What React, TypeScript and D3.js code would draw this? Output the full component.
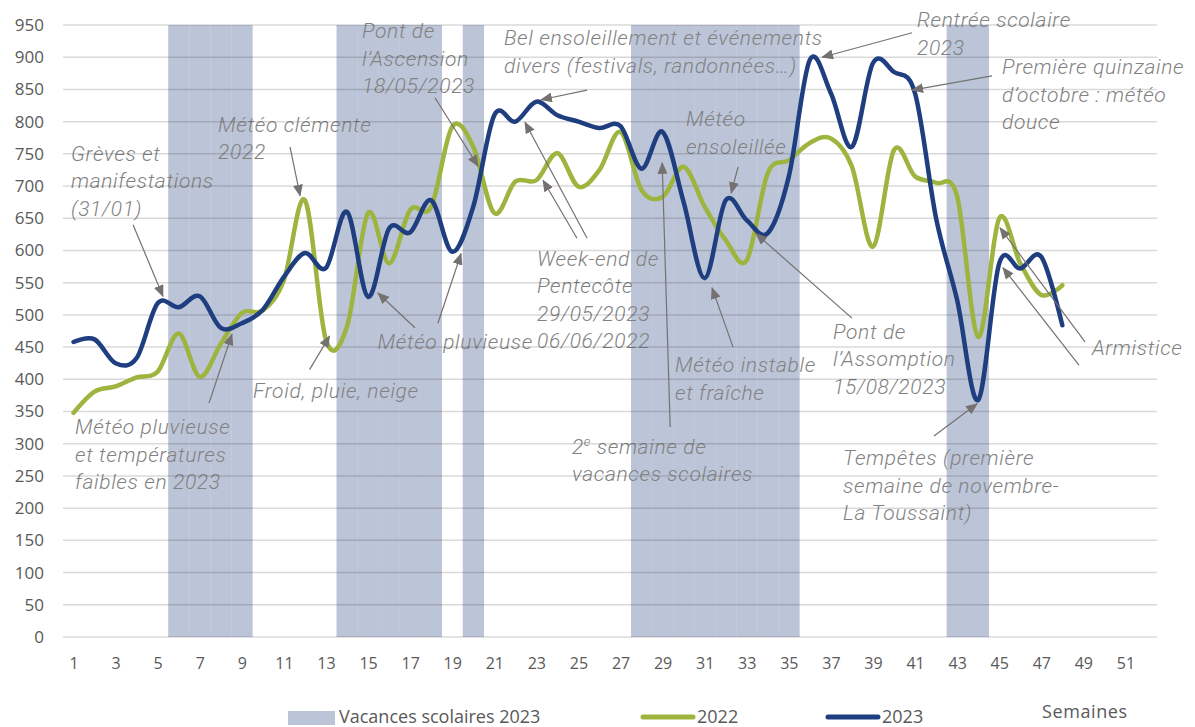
import React, { useEffect, useRef } from 'react';
import * as d3 from 'd3';

// weekly values, week 1 .. 48
const weeks = d3.range(1, 49);
const values2022 = [348, 381, 389, 403, 412, 471, 404, 455, 503, 507, 554, 678, 461, 482, 658, 580, 663, 668, 792, 761, 658, 707, 709, 751, 699, 725, 784, 694, 683, 730, 668, 616, 585, 720, 740, 767, 774, 730, 606, 756, 715, 705, 684, 466, 650, 580, 531, 546];
const values2023 = [458, 462, 425, 433, 518, 512, 529, 480, 487, 508, 559, 596, 573, 660, 528, 634, 628, 678, 598, 668, 810, 800, 831, 810, 800, 790, 793, 727, 784, 675, 557, 678, 647, 627, 715, 896, 844, 761, 891, 877, 844, 650, 523, 368, 580, 572, 590, 484];
const vacationWeeks = [6, 7, 8, 9, 14, 15, 16, 17, 18, 20, 28, 29, 30, 31, 32, 33, 34, 35, 43, 44];
const xTicks = d3.range(1, 52, 2);
const yTicks = d3.range(0, 951, 50);

// callouts: anchor in [week, value], one entry per text line
const notes: { at: [number, number]; lines: string[] }[] = [
    { at: [14.71, 941], lines: ['Pont de', 'l’Ascension', '18/05/2023'] },
    { at: [21.46, 930], lines: ['Bel ensoleillement et événements', 'divers (festivals, randonnées…)'] },
    { at: [41.09, 958], lines: ['Rentrée scolaire', '2023'] },
    { at: [45.13, 885], lines: ['Première quinzaine', 'd’octobre : météo', 'douce'] },
    { at: [7.87, 796], lines: ['Météo clémente', '2022'] },
    { at: [0.88, 751], lines: ['Grèves et', 'manifestations', '(31/01)'] },
    { at: [30.11, 804], lines: ['Météo', 'ensoleillée'] },
    { at: [23.03, 588], lines: ['Week-end de', 'Pentecôte', '29/05/2023', '06/06/2022'] },
    { at: [15.45, 458], lines: ['Météo pluvieuse'] },
    { at: [37.10, 474], lines: ['Pont de', 'l’Assomption', '15/08/2023'] },
    { at: [49.41, 449], lines: ['Armistice'] },
    { at: [29.59, 422], lines: ['Météo instable', 'et fraîche'] },
    { at: [9.53, 383], lines: ['Froid, pluie, neige'] },
    { at: [1.07, 326], lines: ['Météo pluvieuse', 'et températures', 'faibles en 2023'] },
    { at: [37.58, 278], lines: ['Tempêtes (première', 'semaine de novembre-', 'La Toussaint)'] },
];

// arrows: [fromWeek, fromValue, toWeek, toValue]
const arrows: [number, number, number, number][] = [
    [3.83, 640, 5.25, 529],
    [11.29, 761, 11.77, 685],
    [7.44, 363, 8.53, 470],
    [12.22, 415, 13.17, 467],
    [17.23, 480, 15.47, 534],
    [18.32, 487, 19.42, 595],
    [18.18, 837, 20.23, 731],
    [25.41, 849, 23.22, 834],
    [24.93, 619, 23.32, 709],
    [25.41, 619, 22.46, 799],
    [29.36, 326, 28.98, 736],
    [32.59, 730, 32.26, 689],
    [32.35, 450, 31.35, 542],
    [38.0, 495, 33.44, 626],
    [40.86, 938, 36.58, 900],
    [44.66, 871, 40.86, 849],
    [41.9, 312, 43.95, 362],
    [49.08, 458, 45.04, 635],
    [48.79, 422, 45.18, 573],
];

const W = 1195, H = 727;
const C2022 = '#9db43f', C2023 = '#1f3e80', BAND = '#bcc5d8';
const NOTE = '#828282';
const NOTE_FONT = 'Roboto, "Open Sans", sans-serif';
const AXIS_FONT = '"Open Sans", "Noto Sans", sans-serif';
const LINE_H = 27.5;

const App = () => {
    const ref = useRef<SVGSVGElement>(null);

    useEffect(() => {
        if (!ref.current) return;
        const svg = d3.select(ref.current);
        svg.selectAll('*').remove();

        const x = d3.scaleLinear().domain([0.5, 52.5]).range([63, 1157]);
        const y = d3.scaleLinear().domain([0, 950]).range([637, 25]);
        const bw = x(1) - x(0);

        svg.append('defs').append('marker')
            .attr('id', 'head')
            .attr('markerUnits', 'userSpaceOnUse')
            .attr('markerWidth', 12).attr('markerHeight', 10)
            .attr('refX', 11).attr('refY', 5)
            .attr('orient', 'auto')
            .append('path').attr('d', 'M0,0L12,5L0,10Z').attr('fill', '#757171');

        // school holidays
        svg.append('g').selectAll('rect').data(vacationWeeks).enter().append('rect')
            .attr('x', d => x(d) - bw / 2)
            .attr('width', bw + 0.3)
            .attr('y', y(950))
            .attr('height', y(0) - y(950))
            .attr('fill', BAND);

        // callout texts
        const tg = svg.append('g')
            .attr('font-family', NOTE_FONT)
            .attr('font-style', 'italic')
            .attr('font-weight', 300)
            .attr('font-size', 21)
            .attr('letter-spacing', 0.65)
            .attr('fill', NOTE);
        notes.forEach(n => {
            const t = tg.append('text').attr('x', x(n.at[0])).attr('y', y(n.at[1]));
            n.lines.forEach((l, i) => {
                t.append('tspan').attr('x', x(n.at[0]))
                    .attr('y', y(n.at[1]) + i * LINE_H)
                    .attr('dy', '0.35em')
                    .text(l);
            });
        });
        const sx = x(24.69), sy = y(295);
        const sup = tg.append('text').attr('x', sx).attr('y', sy + 7);
        sup.append('tspan').text('2');
        sup.append('tspan').attr('font-size', 13).attr('dy', -8).text('e');
        sup.append('tspan').attr('dy', 8).text(' semaine de');
        tg.append('text').attr('x', sx).attr('y', sy + LINE_H + 7).text('vacances scolaires');

        // gridlines
        svg.append('g').selectAll('line').data(yTicks).enter().append('line')
            .attr('x1', x(0.5)).attr('x2', x(52.5))
            .attr('y1', d => y(d)).attr('y2', d => y(d))
            .attr('stroke', 'rgba(0,0,0,0.15)')
            .attr('stroke-width', 1.5);

        // axes
        const ya = svg.append('g').attr('transform', `translate(${x(0.5)},0)`)
            .call(d3.axisLeft(y).tickValues(yTicks).tickSize(0).tickPadding(19));
        ya.select('.domain').remove();
        ya.selectAll('text').attr('font-family', AXIS_FONT).attr('font-size', 17).attr('fill', '#595959');

        const xa = svg.append('g').attr('transform', `translate(0,${y(0)})`)
            .call(d3.axisBottom(x).tickValues(xTicks).tickSize(0).tickPadding(21));
        xa.select('.domain').remove();
        xa.selectAll('text').attr('font-family', AXIS_FONT).attr('font-size', 16).attr('fill', '#595959');

        // series
        const line = d3.line<number>()
            .x((_, i) => x(weeks[i]))
            .y(d => y(d))
            .curve(d3.curveCardinal.tension(0));

        svg.append('path').datum(values2022)
            .attr('fill', 'none').attr('stroke', C2022).attr('stroke-width', 4.5)
            .attr('stroke-linejoin', 'round').attr('stroke-linecap', 'round')
            .attr('d', line);
        svg.append('path').datum(values2023)
            .attr('fill', 'none').attr('stroke', C2023).attr('stroke-width', 4.5)
            .attr('stroke-linejoin', 'round').attr('stroke-linecap', 'round')
            .attr('d', line);

        // callout arrows
        svg.append('g').selectAll('line').data(arrows).enter().append('line')
            .attr('x1', d => x(d[0])).attr('y1', d => y(d[1]))
            .attr('x2', d => x(d[2])).attr('y2', d => y(d[3]))
            .attr('stroke', '#757171').attr('stroke-width', 1.2)
            .attr('marker-end', 'url(#head)');

        // axis title
        svg.append('text').attr('x', 1042).attr('y', 718)
            .attr('font-family', AXIS_FONT).attr('font-size', 18).attr('fill', '#595959')
            .attr('letter-spacing', 0.6)
            .text('Semaines');

        // legend
        const lg = svg.append('g').attr('font-family', AXIS_FONT).attr('font-size', 18).attr('fill', '#595959');
        lg.append('rect').attr('x', 288).attr('y', 711).attr('width', 47).attr('height', 14).attr('fill', BAND);
        lg.append('text').attr('x', 339).attr('y', 723).text('Vacances scolaires 2023');
        lg.append('line').attr('x1', 643).attr('x2', 693).attr('y1', 717).attr('y2', 717)
            .attr('stroke', C2022).attr('stroke-width', 5).attr('stroke-linecap', 'round');
        lg.append('text').attr('x', 697).attr('y', 723).text('2022');
        lg.append('line').attr('x1', 828).attr('x2', 878).attr('y1', 717).attr('y2', 717)
            .attr('stroke', C2023).attr('stroke-width', 5).attr('stroke-linecap', 'round');
        lg.append('text').attr('x', 882).attr('y', 723).text('2023');
    }, []);

    return (
        <svg ref={ref} width={W} height={H}
            style={{ position: 'absolute', left: 0, top: 0, background: '#fff' }} />
    );
};

export default App;
